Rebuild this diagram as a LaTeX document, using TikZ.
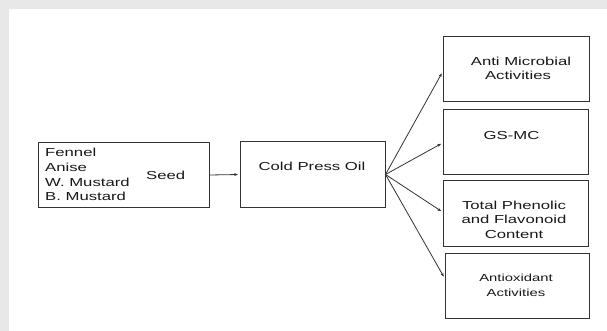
\documentclass[tikz,border=0pt]{standalone}
\usepackage{fontspec}
\setmainfont{Liberation Sans}
\newfontfamily\widefont[FakeStretch=1.44]{Liberation Sans}
\usetikzlibrary{arrows.meta}
\begin{document}
\begin{tikzpicture}[x=1pt,y=-1pt,
  box/.style={draw=black!80, line width=1pt, inner sep=0pt, minimum height=65pt},
  txt/.style={inner sep=0pt, font=\widefont\fontsize{11.6}{14.7}\selectfont, text=black!90},
  smalltxt/.style={inner sep=0pt, font=\widefont\fontsize{10.3}{14.7}\selectfont, text=black!90},
  arr/.style={draw=black!80, line width=0.8pt, -{Stealth[length=4pt,width=3pt]}, shorten >=1.5pt}]
\fill[black!9] (0,0) rectangle (607,331);
\fill[white] (8.5,9.5) rectangle (607,331);
\useasboundingbox (0,0) rectangle (607,331);
% boxes
\node[box, minimum width=171pt, minimum height=64pt] (seed) at (123.5,175) {};
\node[box, minimum width=145pt] (cpo) at (312.5,174.5) {};
\node[box, minimum width=146pt] (b1) at (516,69.5) {};
\node[box, minimum width=145pt] (b2) at (515.5,142.5) {};
\node[box, minimum width=145pt] (b3) at (515.5,213.5) {};
\node[box, minimum width=144pt] (b4) at (517,285.5) {};
% texts (base anchor = baseline of the last line)
\node[txt, anchor=base west, align=left] (seedlist) at (45,200.8) {Fennel\\Anise\\W. Mustard\\B. Mustard};
\node[txt, anchor=base west] (seedword) at (146,179) {Seed};
\node[txt, anchor=base] (cpot) at (312,171) {Cold Press Oil};
\node[txt, anchor=base, align=center] (b1t) at (518,80) {\hspace*{6pt}Anti Microbial\\Activities};
\node[txt, anchor=base] (b2t) at (511.5,140) {GS-MC};
\node[txt, anchor=base, align=center] (b3t) at (514,238.5) {Total Phenolic\\and Flavonoid\\Content};
\node[smalltxt, anchor=base, align=center] (b4t) at (516,296) {Antioxidant\\Activities};
% connectors
\draw[arr] (seed.east) -- (cpo.west);
\draw[arr] (cpo.east) -- ([yshift=-2.5pt]b1.west);
\draw[arr] (cpo.east) -- ([yshift=-0.5pt]b2.west);
\draw[arr] (cpo.east) -- ([yshift=1.5pt]b3.west);
\draw[arr] (cpo.east) -- ([yshift=7.5pt]b4.west);
\end{tikzpicture}
\end{document}
